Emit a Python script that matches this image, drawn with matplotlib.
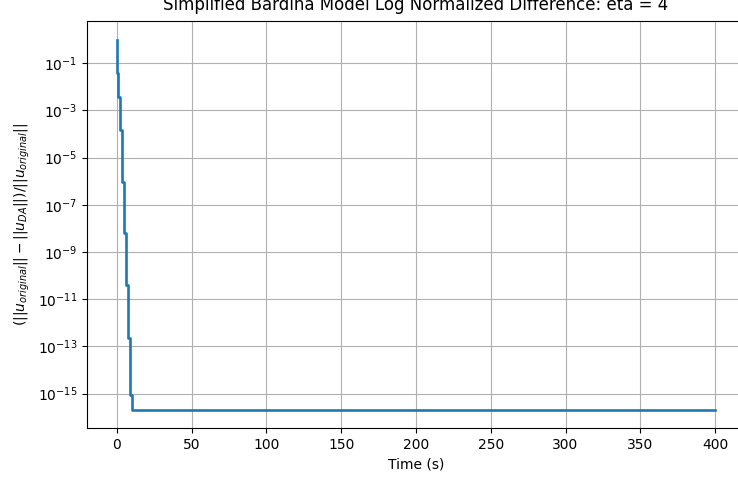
import matplotlib
matplotlib.use('Agg')
import matplotlib.pyplot as plt

# time at which each level starts (s) and the normalized difference held until the next one
t_steps = [0.0, 0.3, 0.9, 2.0, 3.1, 4.7, 6.0, 7.2, 8.5, 9.8, 400.0]
diff = [1.0, 3.7e-2, 3.7e-3, 1.4e-4, 8.9e-7, 6.6e-9, 4.0e-11, 2.2e-13, 9.0e-16, 2.1e-16, 2.1e-16]

fig = plt.figure(figsize=(7.38, 4.82), dpi=100)
ax = fig.add_axes([0.1179, 0.112, 0.8916, 0.8444])

ax.step(t_steps, diff, where='post', linewidth=1.9)
ax.set_yscale('log')
ax.grid(True)

ax.set_title('Simplified Bardina Model Log Normalized Difference: eta = 4', pad=8)
ax.set_xlabel('Time (s)')
ax.set_ylabel(r'$(||u_{original}|| - ||u_{DA}||)/||u_{original}||$')

fig.savefig('out.png', dpi=100)
plt.close(fig)
